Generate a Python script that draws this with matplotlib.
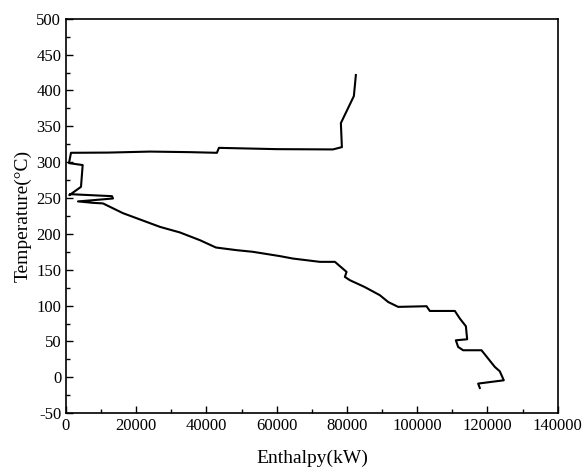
import numpy as np
import matplotlib
matplotlib.use('Agg')
import matplotlib.pyplot as plt
from matplotlib.ticker import MultipleLocator

# composite curve
enthalpy = [82530, 81960, 78260, 78550, 75990, 60000, 43540, 42970, 35290, 24000,
            12000, 1420, 850, 4750, 4270, 940, 1140, 13090, 13380, 7680,
            3420, 7680, 10530, 16220, 26750, 32440, 38140, 42690, 48580, 53220,
            60900, 64610, 72290, 76560, 79880, 79400, 80830, 85000, 89360, 91730,
            94570, 102650, 103590, 110710, 112140, 113850, 114220, 111000, 111650, 113070,
            118300, 122100, 123500, 124650, 117340, 117820]
temperature = [421.6, 392.2, 354.5, 321.0, 317.8, 318.2, 320.0, 313.1, 314.0, 314.8,
               313.4, 313.1, 298.7, 296.0, 265.6, 254.0, 255.4, 252.6, 249.4, 247.0,
               245.3, 243.3, 242.5, 228.9, 209.8, 202.0, 191.2, 181.0, 177.3, 175.0,
               169.0, 165.6, 161.0, 161.0, 147.0, 140.0, 135.4, 126.0, 114.5, 105.0,
               98.2, 99.1, 92.5, 92.5, 81.9, 71.2, 53.0, 51.6, 42.3, 37.7,
               37.7, 14.4, 8.4, -4.2, -8.8, -14.9]

plt.rcParams['font.family'] = ['Liberation Serif', 'DejaVu Serif']
plt.rcParams['axes.unicode_minus'] = False
fig = plt.figure(figsize=(5.84, 4.70), dpi=100)
ax = fig.add_axes([0.113, 0.121, 0.842, 0.839])
ax.plot(enthalpy, temperature, color='black', lw=1.5)
ax.set_xlim(0, 140000)
ax.set_ylim(-50, 500)
ax.xaxis.set_major_locator(MultipleLocator(20000))
ax.xaxis.set_minor_locator(MultipleLocator(10000))
ax.yaxis.set_major_locator(MultipleLocator(50))
ax.yaxis.set_minor_locator(MultipleLocator(25))
ax.tick_params(which='both', direction='in', top=False, right=False, labelsize=12)
ax.tick_params(which='major', length=5, width=1)
ax.tick_params(which='minor', length=3, width=1)
for s in ax.spines.values():
    s.set_linewidth(1.2)
ax.set_xlabel('Enthalpy(kW)', fontsize=14, labelpad=11)
ax.set_ylabel('Temperature(\u00b0C)', fontsize=14, labelpad=3)
fig.savefig('out.png', dpi=100)
